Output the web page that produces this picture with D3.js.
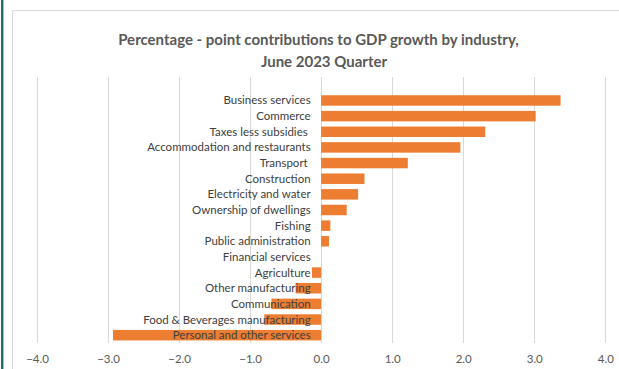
<!DOCTYPE html>
<html>
<head>
<meta charset="utf-8">
<script src="https://cdn.jsdelivr.net/npm/d3@7"></script>
<style>
  html, body { margin: 0; padding: 0; background: #fff; }
  svg { display: block; }
</style>
</head>
<body>
<svg id="chart" width="619" height="369"></svg>
<script>
// Industries, top to bottom, and their percentage-point contributions
const industries = [
  "Business services",
  "Commerce",
  "Taxes less subsidies ",
  "Accommodation and restaurants",
  "Transport ",
  "Construction",
  "Electricity and water",
  "Ownership of dwellings",
  "Fishing",
  "Public administration",
  "Financial services",
  "Agriculture",
  "Other manufacturing",
  "Communication",
  "Food & Beverages manufacturing",
  "Personal and other services"
];
const contributions = [3.37, 3.02, 2.31, 1.96, 1.22, 0.61, 0.52, 0.36, 0.13, 0.11, 0.00, -0.13, -0.36, -0.70, -0.80, -2.93];
const xTicks = [-4, -3, -2, -1, 0, 1, 2, 3, 4];
const titleLines = ["Percentage - point contributions to GDP growth by industry,", "June 2023 Quarter"];

const svg = d3.select("#chart");
const W = 619, H = 369;
const font = "Lato, 'Open Sans', sans-serif";

// Frame: dark accent strip at the far left and the chart-area border
svg.append("rect").attr("x", 1).attr("y", 0).attr("width", 2.4).attr("height", H).attr("fill", "#1f6d68");
svg.append("path")
  .attr("d", `M12.5,${H} V10.5 H${W}`)
  .attr("fill", "none").attr("stroke", "#d9d9d9").attr("stroke-width", 1);

// Plot area
const plot = { left: 37, right: 605.3, top: 77, bottom: 343 };
const x = d3.scaleLinear().domain([-4, 4]).range([plot.left, plot.right]);
const step = (plot.bottom - plot.top) / (industries.length + 1);
const y = d3.scaleBand()
  .domain(industries)
  .range([plot.top + step, plot.bottom])
  .paddingInner(0.33)
  .paddingOuter(0.165);

// Vertical gridlines
svg.append("g").selectAll("line").data(xTicks).join("line")
  .attr("x1", d => Math.round(x(d)) + 0.5).attr("x2", d => Math.round(x(d)) + 0.5)
  .attr("y1", plot.top).attr("y2", plot.bottom)
  .attr("stroke", "#d9d9d9").attr("stroke-width", 1);

// Bars
svg.append("g").selectAll("rect").data(industries).join("rect")
  .attr("x", (d, i) => x(Math.min(0, contributions[i])))
  .attr("y", d => y(d))
  .attr("width", (d, i) => Math.abs(x(contributions[i]) - x(0)))
  .attr("height", y.bandwidth())
  .attr("fill", "#ed7d31");

// Category labels beside the zero line
svg.append("g").selectAll("text").data(industries).join("text")
  .attr("x", x(0) - 10.5)
  .attr("y", d => y(d) + y.bandwidth() / 2)
  .attr("dy", "0.35em")
  .attr("text-anchor", "end")
  .attr("font-family", font)
  .attr("font-size", 11.5)
  .attr("fill", "#404040")
  .style("white-space", "pre")
  .text(d => d);

// Value axis along the bottom
const xAxis = d3.axisBottom(x).tickValues(xTicks).tickFormat(d3.format(".1f")).tickSize(0).tickPadding(0);
const ax = svg.append("g").attr("transform", `translate(0,${plot.bottom})`).call(xAxis);
ax.select(".domain").remove();
ax.selectAll("text")
  .attr("y", 20)
  .attr("font-family", font)
  .attr("font-size", 11.5)
  .attr("fill", "#595959")
  .attr("dy", "0");

// Title
svg.append("g").selectAll("text").data(titleLines).join("text")
  .attr("x", (d, i) => i === 0 ? 318.5 : 324)
  .attr("y", (d, i) => 45 + i * 21.5)
  .attr("text-anchor", "middle")
  .attr("font-family", font)
  .attr("font-weight", "bold")
  .attr("font-size", 15)
  .attr("fill", "#595959")
  .text(d => d);
</script>
</body>
</html>
